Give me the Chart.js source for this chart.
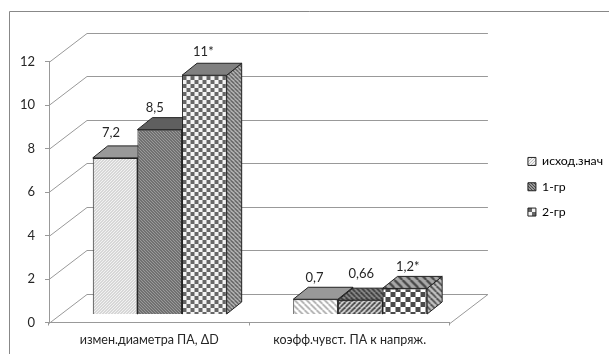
<!DOCTYPE html>
<html>
<head>
<meta charset="utf-8">
<script src="https://cdn.jsdelivr.net/npm/chart.js@4"></script>
<style>
body { margin: 0; background: #fff; }
canvas { display: block; }
</style>
</head>
<body>
<canvas id="chart" width="609" height="354"></canvas>
<script>
const categories = ["измен.диаметра ПА, ΔD", "коэфф.чувст. ПА к напряж."];
const seriesNames = ["исход.знач", "1-гр", "2-гр"];
const baseValues = [7.2, 0.7];
const group1Values = [8.5, 0.66];
const group2Values = [11, 1.2];
const baseLabels = ["7,2", "0,7"];
const group1Labels = ["8,5", "0,66"];
const group2Labels = ["11*", "1,2*"];

const fontName = "Lato, 'Open Sans', sans-serif";
const textColor = "#262626";
const gridColor = "#999";
const edgeColor = "#222";

// how far the bars sit in front of the back wall, and how deep the walls and bars are
const barShift = { x: 10.5, y: -8 };
const wallDepth = { x: 38, y: -29 };
const barDepth = { x: 15, y: -12 };

function stripes(bg, fg, size, lineWidth, flip) {
    const c = document.createElement("canvas");
    c.width = size;
    c.height = size;
    const g = c.getContext("2d");
    g.fillStyle = bg;
    g.fillRect(0, 0, size, size);
    g.strokeStyle = fg;
    g.lineWidth = lineWidth;
    for (let i = -size; i <= size * 2; i += size) {
        g.beginPath();
        if (flip) {
            g.moveTo(i, 0);
            g.lineTo(i + size, size);
        } else {
            g.moveTo(i + size, 0);
            g.lineTo(i, size);
        }
        g.stroke();
    }
    return g.createPattern(c, "repeat");
}

function checks(dark, light, cell) {
    const c = document.createElement("canvas");
    c.width = cell * 2;
    c.height = cell * 2;
    const g = c.getContext("2d");
    g.fillStyle = light;
    g.fillRect(0, 0, cell * 2, cell * 2);
    g.fillStyle = dark;
    g.fillRect(0, 0, cell, cell);
    g.fillRect(cell, cell, cell, cell);
    return g.createPattern(c, "repeat");
}

// faces per series, first entry for the first category, second for the second
const fronts = [
    [stripes("#f2f2f2", "#bdbdbd", 3, 1, false), stripes("#fff", "#aaa", 6, 1.6, true)],
    [stripes("#999", "#4a4a4a", 3, 1, true), stripes("#d8d8d8", "#444", 5, 1.8, false)],
    [checks("#666", "#f4f4f4", 4), checks("#4a4a4a", "#fff", 5)]
];
const tops = [
    ["#999", "#999"],
    ["#5f5f5f", stripes("#8a8a8a", "#3c3c3c", 5, 1.8, true)],
    ["#808080", stripes("#a8a8a8", "#4a4a4a", 8, 2.4, true)]
];
const sides = [
    ["#888", "#888"],
    ["#555", "#555"],
    [stripes("#c0c0c0", "#505050", 4, 1.3, true), stripes("#c0c0c0", "#505050", 6, 1.8, true)]
];
const labelTexts = [baseLabels, group1Labels, group2Labels];
const labelOffsets = [
    [{ x: -4, y: -25 }, { x: -1, y: -21 }],
    [{ x: -5, y: -22 }, { x: 1, y: -26 }],
    [{ x: -1, y: -23 }, { x: 3, y: -22 }]
];

function face(ctx, points, fill) {
    ctx.beginPath();
    points.forEach((p, i) => (i ? ctx.lineTo(p[0], p[1]) : ctx.moveTo(p[0], p[1])));
    ctx.closePath();
    ctx.fillStyle = fill;
    ctx.fill();
    ctx.strokeStyle = edgeColor;
    ctx.lineWidth = 1;
    ctx.stroke();
}

function line(ctx, points) {
    ctx.beginPath();
    points.forEach((p, i) => (i ? ctx.lineTo(p[0], p[1]) : ctx.moveTo(p[0], p[1])));
    ctx.stroke();
}

const scene3d = {
    id: "scene3d",
    afterLayout(chart) {
        // the legend sits far right of the plot
        chart.legend.left += 65;
        chart.legend.right += 65;
        chart.legend.top -= 21;
        chart.legend.bottom -= 21;
    },
    beforeDraw(chart) {
        const ctx = chart.ctx;
        ctx.save();
        ctx.strokeStyle = "#888";
        ctx.lineWidth = 1;
        line(ctx, [[9.5, 354], [9.5, 11.5], [609, 11.5]]);
        ctx.restore();
    },
    beforeDatasetsDraw(chart) {
        const ctx = chart.ctx;
        const yScale = chart.scales.y;
        const area = chart.chartArea;

        ctx.save();
        ctx.strokeStyle = gridColor;
        ctx.lineWidth = 1;
        yScale.ticks.forEach((tick) => {
            const y = Math.round(yScale.getPixelForValue(tick.value)) + 0.5;
            line(ctx, [
                [area.left, y],
                [area.left + wallDepth.x, y + wallDepth.y],
                [area.right + wallDepth.x, y + wallDepth.y]
            ]);
        });
        const floorY = Math.round(area.bottom) + 0.5;
        line(ctx, [[area.right, floorY], [area.right + wallDepth.x, floorY + wallDepth.y]]);
        ctx.restore();

        // bars stay in library coordinates, the whole group is moved onto the floor
        ctx.save();
        ctx.translate(barShift.x, barShift.y);
        chart.data.datasets.forEach((ds, d) => {
            chart.getDatasetMeta(d).data.forEach((bar, i) => {
                const left = bar.x - bar.width / 2;
                const right = bar.x + bar.width / 2;
                const dx = barDepth.x;
                const dy = barDepth.y;
                face(ctx, [[right, bar.y], [right + dx, bar.y + dy], [right + dx, bar.base + dy], [right, bar.base]], sides[d][i]);
                face(ctx, [[left, bar.y], [left + dx, bar.y + dy], [right + dx, bar.y + dy], [right, bar.y]], tops[d][i]);
            });
        });
    },
    afterDatasetsDraw(chart) {
        const ctx = chart.ctx;
        ctx.restore();
        ctx.save();
        ctx.font = "13px " + fontName;
        ctx.fillStyle = textColor;
        ctx.textAlign = "center";
        ctx.textBaseline = "middle";
        chart.data.datasets.forEach((ds, d) => {
            chart.getDatasetMeta(d).data.forEach((bar, i) => {
                const off = labelOffsets[d][i];
                ctx.fillText(labelTexts[d][i], bar.x + barShift.x + off.x, bar.y + barShift.y + off.y);
            });
        });
        ctx.restore();
    }
};

new Chart(document.getElementById("chart"), {
    type: "bar",
    data: {
        labels: categories,
        datasets: [
            { label: seriesNames[0], data: baseValues, backgroundColor: (c) => fronts[0][c.dataIndex] },
            { label: seriesNames[1], data: group1Values, backgroundColor: (c) => fronts[1][c.dataIndex] },
            { label: seriesNames[2], data: group2Values, backgroundColor: (c) => fronts[2][c.dataIndex] }
        ]
    },
    options: {
        responsive: false,
        animation: false,
        layout: { padding: { top: 61.5, right: 61, left: 0, bottom: 0 } },
        datasets: {
            bar: {
                categoryPercentage: 0.668,
                barPercentage: 1,
                borderColor: edgeColor,
                borderWidth: 1,
                clip: false
            }
        },
        scales: {
            x: {
                afterFit(scale) { scale.height = 31.5; },
                border: { color: gridColor },
                grid: { drawOnChartArea: false, tickLength: 3, color: gridColor },
                ticks: { color: textColor, font: { family: fontName, size: 12.5 }, padding: 7, maxRotation: 0 }
            },
            y: {
                min: 0,
                max: 12,
                afterFit(scale) { scale.width = 49; },
                border: { color: gridColor },
                grid: { drawOnChartArea: false, tickLength: 4, color: gridColor },
                ticks: { stepSize: 2, color: textColor, font: { family: fontName, size: 13 }, padding: 10 }
            }
        },
        plugins: {
            tooltip: { enabled: false },
            legend: {
                position: "right",
                labels: {
                    boxWidth: 8,
                    boxHeight: 8,
                    padding: 13,
                    color: textColor,
                    font: { family: fontName, size: 12.3 },
                    generateLabels: () => seriesNames.map((name, d) => ({
                        text: name,
                        fillStyle: fronts[d][0],
                        strokeStyle: edgeColor,
                        lineWidth: 1,
                        datasetIndex: d
                    }))
                }
            }
        }
    },
    plugins: [scene3d]
});
</script>
</body>
</html>
